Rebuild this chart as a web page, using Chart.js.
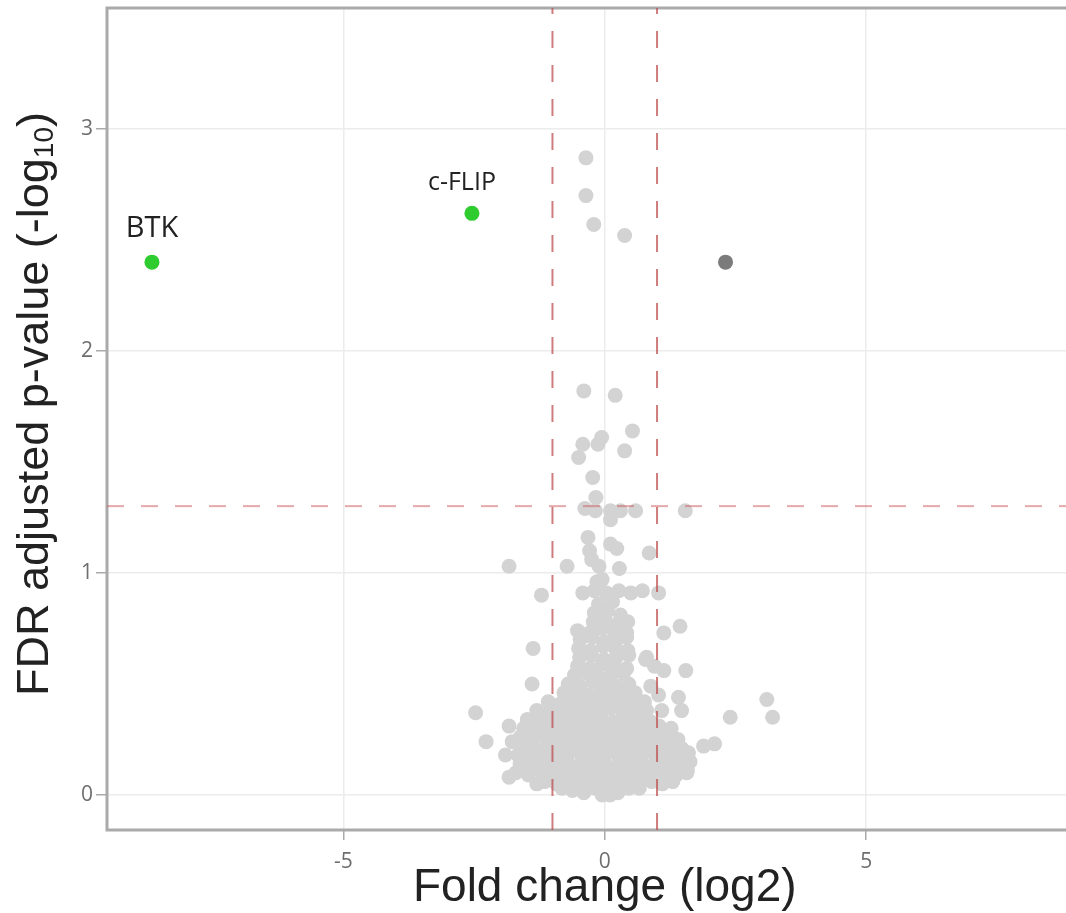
<!DOCTYPE html>
<html>
<head>
<meta charset="utf-8">
<script src="https://cdn.jsdelivr.net/npm/chart.js@4"></script>
<style>
  html, body { margin: 0; padding: 0; background: #fff; overflow: hidden; }
  #wrap { width: 1110px; height: 913px; }
</style>
</head>
<body>
<div id="wrap"><canvas id="volcano" width="1110" height="913"></canvas></div>
<script>
// axis ranges and ticks
const xRange = [-9.52, 9.52];
const yRange = [-0.158, 3.545];
const xTicks = [-5, 0, 5];
const yTicks = [0, 1, 2, 3];

// cut-offs: |log2 FC| = 1 and FDR 0.05
const foldCut = [-1, 1];
const pCut = 1.301;

// labelled hits
const hitNames = ['BTK', 'c-FLIP'];
const hitFold = [-8.66, -2.54];
const hitPval = [2.40, 2.62];

// significant but not labelled
const upFold = [2.31];
const upPval = [2.40];

// everything else [log2 FC, -log10 FDR]
const otherGenes = [
  // upper scatter
  [-0.36, 2.87], [-0.36, 2.70], [-0.21, 2.57], [0.38, 2.52],
  [-0.40, 1.82], [0.20, 1.80], [0.53, 1.64], [-0.06, 1.61], [-0.13, 1.58], [-0.42, 1.58],
  [-0.50, 1.52], [0.38, 1.55], [-0.23, 1.43], [-0.17, 1.34], [-0.38, 1.29], [-0.18, 1.28],
  [0.11, 1.28], [0.30, 1.28], [0.59, 1.28], [0.11, 1.24], [1.54, 1.28], [-0.32, 1.16],
  [-0.29, 1.10], [0.11, 1.13], [0.23, 1.11], [0.85, 1.09], [-1.83, 1.03], [-0.72, 1.03],
  [-0.25, 1.06], [-0.11, 1.03], [0.28, 1.02], [-0.15, 0.96], [-0.05, 0.97],
  // column
  [-0.42, 0.91], [-0.20, 0.92], [0.03, 0.91], [0.27, 0.92], [0.50, 0.91], [0.72, 0.92],
  [-0.12, 0.86], [0.15, 0.87],
  [-0.20, 0.82], [0.05, 0.83], [0.30, 0.81],
  [-0.22, 0.78], [0.01, 0.79], [0.25, 0.77], [0.44, 0.78],
  [-0.52, 0.74], [-0.29, 0.73], [-0.05, 0.75], [0.18, 0.74], [0.42, 0.73],
  [-0.47, 0.70], [-0.24, 0.71], [0.00, 0.69], [0.23, 0.70], [0.42, 0.71],
  [-0.50, 0.66], [-0.27, 0.65], [-0.03, 0.67], [0.20, 0.66], [0.44, 0.65],
  [-0.48, 0.62], [-0.25, 0.63], [-0.01, 0.61], [0.22, 0.62], [0.46, 0.63],
  [-0.52, 0.58], [-0.29, 0.57], [-0.05, 0.59], [0.18, 0.58], [0.42, 0.57],
  [-0.58, 0.54], [-0.35, 0.55], [-0.11, 0.53], [0.12, 0.54], [0.36, 0.55],
  [-0.70, 0.50], [-0.47, 0.49], [-0.23, 0.51], [0.00, 0.50], [0.24, 0.49], [0.46, 0.50],
  [-0.78, 0.46], [-0.55, 0.47], [-0.31, 0.45], [-0.08, 0.46], [0.16, 0.47], [0.39, 0.45], [0.58, 0.46],
  // right of column
  [0.78, 0.61], [0.80, 0.62], [0.95, 0.58], [1.13, 0.56], [1.55, 0.56], [0.88, 0.49],
  [1.03, 0.45], [1.41, 0.44], [1.09, 0.38], [1.47, 0.38], [1.13, 0.73], [1.44, 0.76], [1.03, 0.91],
  // main blob
  [-1.08, 0.42], [-0.85, 0.41], [-0.61, 0.43], [-0.38, 0.42], [-0.14, 0.41], [0.09, 0.43], [0.33, 0.42], [0.56, 0.41], [0.76, 0.42],
  [-1.30, 0.38], [-1.06, 0.37], [-0.83, 0.39], [-0.59, 0.38], [-0.36, 0.37], [-0.12, 0.38], [0.11, 0.39], [0.35, 0.37], [0.58, 0.38], [0.80, 0.38],
  [-1.48, 0.34], [-1.24, 0.33], [-1.00, 0.35], [-0.77, 0.34], [-0.53, 0.33], [-0.30, 0.35], [-0.06, 0.34], [0.17, 0.33], [0.41, 0.35], [0.64, 0.34], [0.88, 0.33],
  [-1.55, 0.30], [-1.31, 0.29], [-1.08, 0.31], [-0.84, 0.30], [-0.61, 0.29], [-0.37, 0.31], [-0.14, 0.30], [0.10, 0.29], [0.33, 0.31], [0.57, 0.30], [0.80, 0.29], [1.04, 0.31], [1.27, 0.30],
  [-1.62, 0.26], [-1.38, 0.25], [-1.14, 0.27], [-0.90, 0.26], [-0.67, 0.25], [-0.43, 0.27], [-0.20, 0.26], [0.04, 0.25], [0.28, 0.27], [0.51, 0.26], [0.75, 0.25], [0.98, 0.27], [1.22, 0.26], [1.40, 0.25],
  [-1.58, 0.22], [-1.35, 0.21], [-1.11, 0.23], [-0.88, 0.22], [-0.64, 0.21], [-0.41, 0.23], [-0.17, 0.22], [0.06, 0.21], [0.30, 0.23], [0.53, 0.22], [0.77, 0.21], [1.00, 0.23], [1.24, 0.22], [1.47, 0.21],
  [-1.66, 0.18], [-1.42, 0.17], [-1.19, 0.19], [-0.95, 0.18], [-0.72, 0.17], [-0.48, 0.19], [-0.25, 0.18], [-0.01, 0.17], [0.22, 0.19], [0.46, 0.18], [0.69, 0.17], [0.93, 0.19], [1.16, 0.18], [1.40, 0.17], [1.60, 0.19],
  [-1.62, 0.14], [-1.38, 0.13], [-1.15, 0.15], [-0.91, 0.14], [-0.67, 0.13], [-0.44, 0.15], [-0.20, 0.14], [0.03, 0.13], [0.27, 0.15], [0.50, 0.14], [0.74, 0.13], [0.97, 0.15], [1.21, 0.14], [1.44, 0.13], [1.63, 0.15],
  [-1.70, 0.10], [-1.46, 0.09], [-1.22, 0.11], [-0.98, 0.10], [-0.75, 0.09], [-0.51, 0.11], [-0.28, 0.10], [-0.04, 0.09], [0.19, 0.11], [0.43, 0.10], [0.66, 0.09], [0.90, 0.11], [1.13, 0.10], [1.37, 0.09], [1.58, 0.11],
  [-1.15, 0.06], [-0.92, 0.05], [-0.70, 0.07], [-0.47, 0.06], [-0.24, 0.05], [-0.02, 0.07], [0.21, 0.06], [0.44, 0.05], [0.67, 0.07], [0.90, 0.06],
  [-1.30, 0.05], [1.10, 0.05], [1.30, 0.06], [-0.82, 0.03], [0.66, 0.03],
  [-0.62, 0.02], [-0.40, 0.01], [-0.18, 0.03], [0.04, 0.02], [0.25, 0.01], [0.46, 0.03], [-0.05, 0.00], [0.10, 0.00],
  // outliers left and right
  [-1.21, 0.90], [-1.37, 0.66], [-1.39, 0.50], [-2.47, 0.37], [-1.83, 0.31], [-2.27, 0.24],
  [-1.77, 0.24], [-1.90, 0.18], [-1.83, 0.08],
  [3.10, 0.43], [3.21, 0.35], [2.40, 0.35], [1.89, 0.22], [2.10, 0.23], [1.57, 0.10], [1.57, 0.19]
];

const frame = {
  id: 'frame',
  beforeDatasetsDraw(chart) {
    const a = chart.chartArea;
    const c = chart.ctx;
    c.save();
    c.strokeStyle = '#aaaaaa';
    c.lineWidth = 3;
    c.strokeRect(a.left, a.top, a.right - a.left, a.bottom - a.top);
    c.restore();
  }
};

// y title drawn by hand so it can sit a little above the middle, like the original
const yTitle = {
  id: 'yTitle',
  afterDraw(chart) {
    const c = chart.ctx;
    c.save();
    c.translate(36, 404);
    c.rotate(-Math.PI / 2);
    c.fillStyle = '#222';
    c.textBaseline = 'middle';
    c.font = '45px "Liberation Sans"';
    const main = 'FDR adjusted p-value (-log';
    const wMain = c.measureText(main).width;
    c.font = '28px "Liberation Sans"';
    const wSub = c.measureText('10').width;
    c.font = '45px "Liberation Sans"';
    const wEnd = c.measureText(')').width;
    let x0 = -(wMain + wSub + wEnd) / 2;
    c.fillText(main, x0, 0);
    c.font = '28px "Liberation Sans"';
    c.fillText('10', x0 + wMain, 9);
    c.font = '45px "Liberation Sans"';
    c.fillText(')', x0 + wMain + wSub, 0);
    c.restore();
  }
};

// gene name above its point
const geneLabels = {
  id: 'geneLabels',
  afterDatasetsDraw(chart) {
    const { ctx, scales } = chart;
    const look = { 'BTK': [0, -33, 29], 'c-FLIP': [-10, -30, 25] };
    ctx.save();
    ctx.fillStyle = '#222';
    ctx.textAlign = 'center';
    ctx.textBaseline = 'middle';
    hitNames.forEach((name, i) => {
      const [dx, dy, size] = look[name];
      ctx.font = size + 'px "Open Sans"';
      ctx.fillText(name, scales.x.getPixelForValue(hitFold[i]) + dx,
                         scales.y.getPixelForValue(hitPval[i]) + dy);
    });
    ctx.restore();
  }
};

const dashV = 'rgba(190, 80, 80, 0.75)';
const dashH = 'rgba(205, 100, 100, 0.55)';
const cutLine = (pts, color) => ({
  data: pts, showLine: true, pointRadius: 0, borderColor: color,
  borderWidth: 2, borderDash: [17, 17]
});

new Chart(document.getElementById('volcano'), {
  type: 'scatter',
  data: {
    datasets: [
      cutLine([{ x: foldCut[0], y: yRange[0] }, { x: foldCut[0], y: yRange[1] }], dashV),
      cutLine([{ x: foldCut[1], y: yRange[0] }, { x: foldCut[1], y: yRange[1] }], dashV),
      cutLine([{ x: xRange[0], y: pCut }, { x: xRange[1], y: pCut }], dashH),
      {
        data: hitFold.map((v, i) => ({ x: v, y: hitPval[i] })),
        backgroundColor: '#2fcc2f', pointRadius: 7.5, borderWidth: 0
      },
      {
        data: upFold.map((v, i) => ({ x: v, y: upPval[i] })),
        backgroundColor: '#7b7b7b', pointRadius: 7.5, borderWidth: 0
      },
      {
        data: otherGenes.map(g => ({ x: g[0], y: g[1] })),
        backgroundColor: '#d3d3d3', pointRadius: 7.5, borderWidth: 0
      }
    ]
  },
  options: {
    responsive: false,
    animation: false,
    layout: { padding: { top: 8, right: 5, left: 0, bottom: 0 } },
    plugins: { legend: { display: false }, tooltip: { enabled: false } },
    scales: {
      x: {
        type: 'linear',
        min: xRange[0], max: xRange[1],
        afterBuildTicks: s => { s.ticks = xTicks.map(v => ({ value: v })); },
        afterFit: s => { s.height = 83; s.paddingLeft = 0; s.paddingRight = 0; },
        border: { display: false },
        grid: { color: '#ececec', lineWidth: 1.5, tickColor: '#aaaaaa', tickLength: 10 },
        ticks: { color: '#6e6e6e', font: { family: 'Open Sans', size: 21 }, padding: 9 },
        title: {
          display: true, text: 'Fold change (log2)', color: '#222',
          font: { family: 'Liberation Sans', size: 46, lineHeight: 1.1 },
          padding: { top: 0, bottom: -1 }
        }
      },
      y: {
        type: 'linear',
        min: yRange[0], max: yRange[1],
        afterBuildTicks: s => { s.ticks = yTicks.map(v => ({ value: v })); },
        afterFit: s => { s.width = 107; s.paddingTop = 0; s.paddingBottom = 0; },
        border: { display: false },
        grid: { color: '#ececec', lineWidth: 1.5, tickColor: '#aaaaaa', tickLength: 11 },
        ticks: { color: '#6e6e6e', font: { family: 'Open Sans', size: 21 }, padding: 3 },
        title: { display: false }
      }
    }
  },
  plugins: [frame, geneLabels, yTitle]
});
</script>
</body>
</html>
